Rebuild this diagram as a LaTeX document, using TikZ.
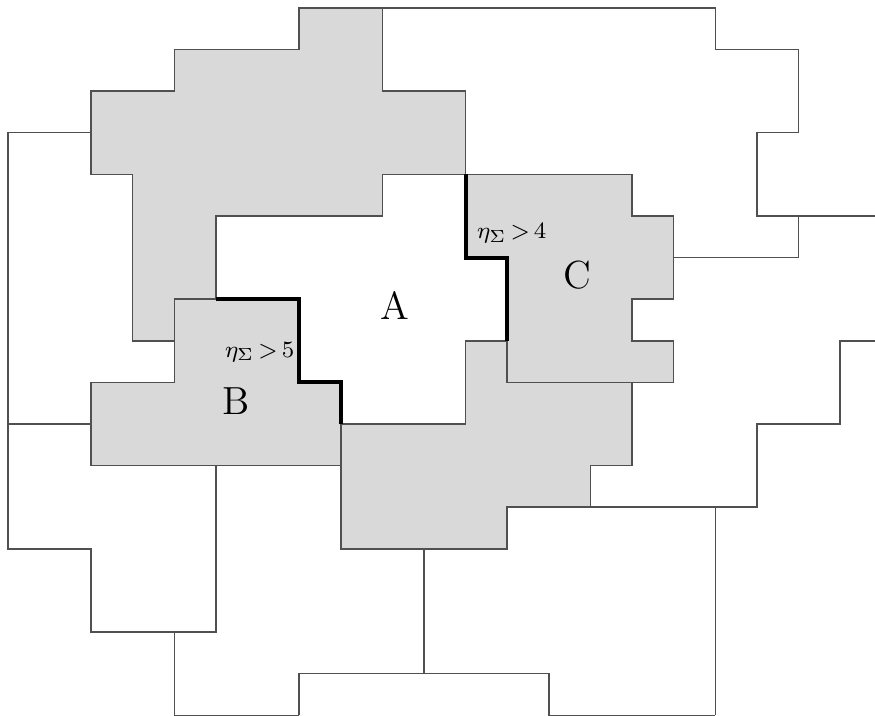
\documentclass[tikz,border=0pt]{standalone}
\usepackage{amsmath}
\definecolor{zonefill}{HTML}{D9D9D9}
\definecolor{cellline}{HTML}{505050}

\begin{document}
\begin{tikzpicture}[x=0.5cm, y=-0.5cm,
    cell/.style={draw=cellline, line width=0.5pt},
    zone/.style={cell, fill=zonefill},
    edgecut/.style={draw=black, line width=1.4pt},
    zonelabel/.style={anchor=base, inner sep=0pt, font=\fontsize{13.4}{16}\selectfont},
    limit/.style={anchor=base, inner sep=0pt, font=\fontsize{8}{10}\selectfont}]
    \useasboundingbox (-0.19,-0.19) rectangle (20.84,17);

    % Grey zones
    \draw[zone] (7,0) -- (9,0) -- (9,2) -- (11,2) -- (11,4) -- (9,4) -- (9,5) -- (5,5) -- (5,7) -- (4,7)
        -- (4,8) -- (3,8) -- (3,4) -- (2,4) -- (2,2) -- (4,2) -- (4,1) -- (7,1) -- cycle;
    \draw[zone] (4,7) -- (7,7) -- (7,9) -- (8,9) -- (8,11) -- (2,11) -- (2,9) -- (4,9) -- cycle;
    \draw[zone] (11,4) -- (15,4) -- (15,5) -- (16,5) -- (16,7) -- (15,7) -- (15,8) -- (16,8) -- (16,9)
        -- (12,9) -- (12,6) -- (11,6) -- cycle;
    \draw[zone] (11,8) -- (12,8) -- (12,9) -- (15,9) -- (15,11) -- (14,11) -- (14,12) -- (12,12)
        -- (12,13) -- (8,13) -- (8,10) -- (11,10) -- cycle;

    % Other cells
    \draw[cell] (9,0) -- (17,0) -- (17,1) -- (19,1) -- (19,3) -- (18,3) -- (18,5) -- (20.84,5);
    \draw[cell] (19,5) -- (19,6) -- (16,6);
    \draw[cell] (20.84,8) -- (20,8) -- (20,10) -- (18,10) -- (18,12) -- (14,12);
    \draw[cell] (17,12) -- (17,17);
    \draw[cell] (2,3) -- (0,3) -- (0,13) -- (2,13) -- (2,15) -- (5,15) -- (5,11);
    \draw[cell] (0,10) -- (2,10);
    \draw[cell] (4,15) -- (4,17) -- (7,17);
    \draw[cell] (10,13) -- (10,16);
    \draw[cell] (7,17) -- (7,16) -- (13,16) -- (13,17) -- (17,17);

    % Boundary of A
    \draw[edgecut] (5,7) -- (7,7) -- (7,9) -- (8,9) -- (8,10);
    \draw[edgecut] (11,4) -- (11,6) -- (12,6) -- (12,8);

    % Labels
    \node[zonelabel] (zoneA) at (9.29,7.5) {A};
    \node[zonelabel] (zoneB) at (5.48,9.78) {B};
    \node[zonelabel] (zoneC) at (13.68,6.75) {C};
    \node[limit] (limitB) at (6.05,8.39) {$\eta_{\Sigma}\,{>}\,5$};
    \node[limit] (limitC) at (12.11,5.55) {$\eta_{\Sigma}\,{>}\,4$};
\end{tikzpicture}
\end{document}
